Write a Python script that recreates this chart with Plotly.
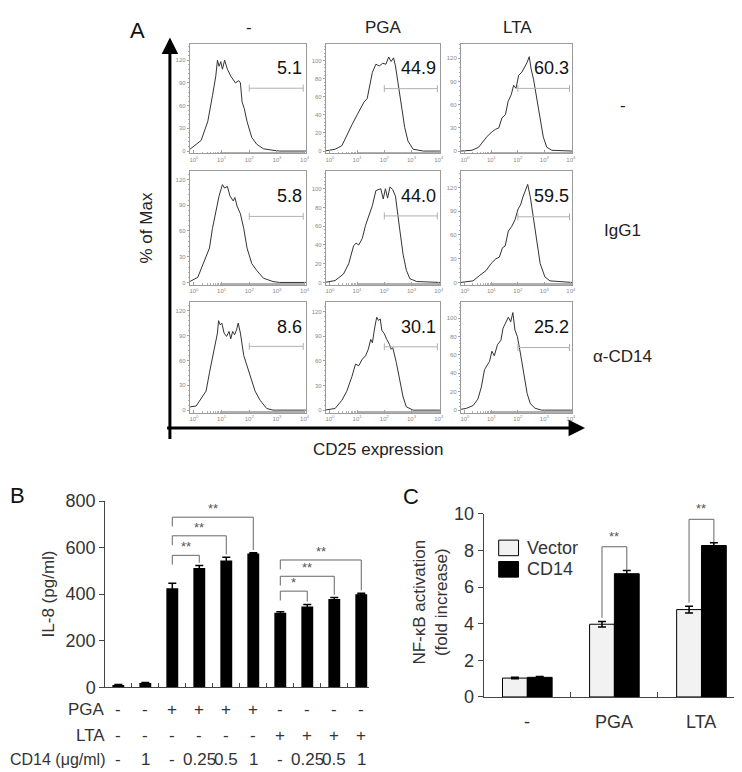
import plotly.graph_objects as go

W, H = 742, 772
FONT = "Liberation Sans, Arial, sans-serif"
TXT = "#222222"


def px(x):
    return x / W


def py(y):
    return 1 - y / H


# ---------------- Panel A data (flow cytometry histograms) ----------------
stim_labels = ["-", "PGA", "LTA"]
antibody_labels = ["-", "IgG1", "α-CD14"]
pct_labels = [["5.1", "44.9", "60.3"],
              ["5.8", "44.0", "59.5"],
              ["8.6", "30.1", "25.2"]]
decade_ticks = [1, 10, 100, 1000, 10000]
decade_text = ["10<sup>0</sup>", "10<sup>1</sup>", "10<sup>2</sup>", "10<sup>3</sup>", "10<sup>4</sup>"]

# x values are log10(CD25), y values are % of max
h11_logx = [-0.15, -0.12, 0.26, 0.5, 0.67, 0.79, 0.85, 0.91, 0.97, 1.03, 1.11, 1.21, 1.33, 1.42, 1.5,
            1.62, 1.68, 1.74, 1.82, 1.92, 2.09, 2.27, 2.51, 2.86, 3.1, 4.05]
h11_y = [3, 3, 14, 39, 73, 99, 120, 112, 118, 108, 120, 108, 99, 95, 90, 93, 90, 65, 56, 39, 18, 9, 3, 1, 0, 0]

h12_logx = [-0.2, 0.19, 0.44, 0.62, 0.81, 1.0, 1.12, 1.25, 1.37, 1.5, 1.56, 1.69, 1.81, 1.94, 2.06, 2.16,
            2.25, 2.34, 2.41, 2.5, 2.62, 2.75, 2.87, 3.06, 3.44, 4.05]
h12_y = [0, 2, 6, 18, 29, 40, 47, 54, 58, 76, 87, 96, 94, 97, 96, 104, 99, 103, 94, 76, 51, 26, 11, 2, 0, 0]

h13_logx = [-0.15, 0.27, 0.52, 0.71, 0.84, 1.03, 1.15, 1.28, 1.4, 1.53, 1.63, 1.75, 1.84, 1.93, 2.03, 2.15,
            2.25, 2.34, 2.43, 2.5, 2.59, 2.71, 2.84, 2.96, 3.09, 3.28, 4.05]
h13_y = [0, 1, 5, 13, 19, 25, 28, 30, 43, 47, 64, 73, 85, 81, 98, 102, 108, 114, 122, 106, 93, 68, 39, 18, 5, 1, 0]

h21_logx = [-0.15, -0.12, 0.14, 0.38, 0.56, 0.67, 0.79, 0.91, 1.03, 1.11, 1.21, 1.3, 1.42, 1.48, 1.56, 1.68,
            1.8, 1.92, 2.09, 2.27, 2.51, 2.86, 3.1, 4.05]
h21_y = [1.5, 1.5, 6, 25, 40, 63, 84, 101, 114, 110, 112, 101, 95, 99, 89, 80, 63, 40, 22, 14, 5, 1, 0, 0]

h22_logx = [-0.2, 0.19, 0.5, 0.69, 0.87, 0.96, 1.06, 1.19, 1.31, 1.44, 1.56, 1.69, 1.79, 1.87, 1.96, 2.04,
            2.12, 2.21, 2.31, 2.41, 2.56, 2.69, 2.81, 2.94, 3.19, 4.05]
h22_y = [0, 2, 9, 20, 39, 42, 40, 47, 61, 73, 82, 98, 99, 100, 89, 100, 90, 102, 99, 92, 58, 30, 13, 4, 1, 0]

h23_logx = [-0.15, 0.31, 0.56, 0.8, 0.99, 1.17, 1.3, 1.42, 1.52, 1.64, 1.77, 1.89, 2.01, 2.1, 2.19, 2.28,
            2.37, 2.47, 2.59, 2.72, 2.84, 3.02, 3.21, 4.05]
h23_y = [0, 2, 9, 15, 24, 30, 32, 44, 46, 65, 71, 79, 93, 98, 108, 116, 124, 108, 81, 48, 24, 7, 2, 0]

h31_logx = [-0.15, -0.12, 0.08, 0.26, 0.44, 0.56, 0.71, 0.85, 0.89, 0.95, 1.01, 1.09, 1.18, 1.27, 1.33, 1.4,
            1.47, 1.54, 1.6, 1.68, 1.8, 1.92, 2.09, 2.21, 2.39, 2.63, 2.86, 4.05]
h31_y = [4, 4, 5, 14, 23, 45, 68, 93, 108, 103, 105, 93, 89, 95, 86, 95, 91, 97, 105, 93, 66, 54, 35, 23, 12,
         2, 0, 0]

h32_logx = [-0.2, 0.19, 0.44, 0.62, 0.81, 0.94, 1.06, 1.19, 1.31, 1.41, 1.5, 1.56, 1.65, 1.72, 1.79, 1.85,
            1.91, 2.0, 2.09, 2.19, 2.25, 2.31, 2.44, 2.56, 2.69, 2.81, 3.06, 4.05]
h32_y = [0, 2, 12, 23, 41, 56, 54, 62, 66, 74, 86, 82, 101, 113, 109, 111, 97, 93, 86, 80, 74, 76, 58, 39, 16,
         4, 0, 0]

h33_logx = [-0.15, -0.12, 0.06, 0.31, 0.49, 0.62, 0.74, 0.83, 0.93, 1.02, 1.11, 1.23, 1.36, 1.44, 1.54, 1.64,
            1.73, 1.81, 1.89, 1.98, 2.1, 2.22, 2.35, 2.47, 2.65, 2.9, 4.05]
h33_y = [1, 1, 2, 5, 12, 25, 44, 48, 53, 64, 59, 71, 76, 89, 96, 101, 96, 106, 87, 80, 61, 39, 18, 7, 2, 0, 0]

gate_level = [[83, 69, 81], [77, 71, 83], [77, 77, 68]]
gate_log_start = 2.0
gate_log_end = 3.95

# ---------------- Panel B data ----------------
il8_values = [10, 18, 425, 513, 545, 575, 320, 347, 379, 400]
il8_errors = [2, 2, 22, 10, 14, 3, 4, 9, 7, 4]
pga_signs = ["-", "-", "+", "+", "+", "+", "-", "-", "-", "-"]
lta_signs = ["-", "-", "-", "-", "-", "-", "+", "+", "+", "+"]
cd14_doses = ["-", "1", "-", "0.25", "0.5", "1", "-", "0.25", "0.5", "1"]
il8_sig_pairs = [(2, 3), (2, 4), (2, 5), (6, 7), (6, 8), (6, 9)]
il8_sig_labels = ["**", "**", "**", "*", "**", "**"]
il8_sig_heights = [567, 651, 731, 413, 477, 547]

# ---------------- Panel C data ----------------
nfkb_groups = ["-", "PGA", "LTA"]
vector_values = [1.03, 3.97, 4.77]
vector_errors = [0.04, 0.15, 0.18]
cd14_values = [1.07, 6.73, 8.27]
cd14_errors = [0.05, 0.17, 0.15]
nfkb_sig_groups = [1, 2]
nfkb_sig_labels = ["**", "**"]
nfkb_sig_heights = [8.2, 9.7]

# ---------------- figure ----------------
fig = go.Figure()
layout = dict(
    width=W, height=H, margin=dict(l=0, r=0, t=0, b=0),
    paper_bgcolor="white", plot_bgcolor="white",
    font=dict(family=FONT, color=TXT),
    showlegend=False, barmode="overlay",
)
annotations = []
shapes = []


def ax_id(n):
    return ("x" if n == 1 else "x%d" % n), ("y" if n == 1 else "y%d" % n)


def ax_key(n):
    return ("xaxis" if n == 1 else "xaxis%d" % n), ("yaxis" if n == 1 else "yaxis%d" % n)


hists = [[(h11_logx, h11_y), (h12_logx, h12_y), (h13_logx, h13_y)],
         [(h21_logx, h21_y), (h22_logx, h22_y), (h23_logx, h23_y)],
         [(h31_logx, h31_y), (h32_logx, h32_y), (h33_logx, h33_y)]]
col_px = [(182, 299), (319, 434), (455, 567)]
row_px = [(27, 139), (157, 274), (292, 405)]
y_tops = [[141, 118, 138], [130, 119, 141], [130, 131, 117]]
y_dticks = [[30, 20, 30], [30, 20, 30], [30, 30, 20]]

k = 0
for r in range(3):
    for c in range(3):
        k += 1
        xs, ys = hists[r][c]
        xa, ya = ax_id(k)
        xk, yk = ax_key(k)
        fig.add_trace(go.Scatter(x=[10 ** v for v in xs], y=ys, mode="lines",
                                 line=dict(color="#333333", width=1),
                                 xaxis=xa, yaxis=ya, hoverinfo="skip"))
        g = gate_level[r][c]
        fig.add_trace(go.Scatter(x=[10 ** gate_log_start, 10 ** gate_log_end], y=[g, g],
                                 mode="lines+markers", line=dict(color="#b0b0b0", width=1),
                                 marker=dict(symbol="line-ns", size=5,
                                             line=dict(color="#b0b0b0", width=1)),
                                 xaxis=xa, yaxis=ya, hoverinfo="skip"))
        dt = y_dticks[r][c]
        top = y_tops[r][c]
        layout[xk] = dict(
            domain=[px(col_px[c][0]), px(col_px[c][1])], anchor=ya, type="log",
            range=[-0.15, 4.05], showline=True, mirror=True, linecolor="#9a9a9a", linewidth=1,
            tickmode="array", tickvals=decade_ticks, ticktext=decade_text,
            tickfont=dict(size=6, color="#8a8a8a"), ticks="inside", ticklen=3, tickcolor="#a0a0a0",
            minor=dict(ticks="inside", ticklen=1.5, tickcolor="#b0b0b0"),
            showgrid=False, zeroline=False, fixedrange=True)
        layout[yk] = dict(
            domain=[py(row_px[r][1]), py(row_px[r][0])], anchor=xa,
            range=[-top * 0.022, top], tick0=0, dtick=dt, showline=True, mirror=True,
            linecolor="#9a9a9a", linewidth=1, ticks="outside", ticklen=2, tickcolor="#a0a0a0",
            tickfont=dict(size=6, color="#8a8a8a"),
            minor=dict(ticks="outside", ticklen=1, dtick=dt / 5, tickcolor="#b0b0b0"),
            showgrid=False, zeroline=False, fixedrange=True)
        annotations.append(dict(text=pct_labels[r][c], xref=xa + " domain", yref=ya + " domain",
                                x=0.985, y=0.78, xanchor="right", yanchor="middle", showarrow=False,
                                font=dict(size=18, color="#111111")))

# column and row headers for A
for c, lab in enumerate(stim_labels):
    annotations.append(dict(text=lab, x=px((col_px[c][0] + col_px[c][1]) / 2 + 1), y=py(10),
                            xref="paper", yref="paper", showarrow=False,
                            xanchor="center", yanchor="middle", font=dict(size=17)))
row_label_y = [90, 218, 347]
for r, lab in enumerate(antibody_labels):
    annotations.append(dict(text=lab, x=px(618), y=py(row_label_y[r]), xref="paper", yref="paper",
                            showarrow=False, xanchor="center", yanchor="middle", font=dict(size=17)))
annotations.append(dict(text="A", x=px(129), y=py(13), xref="paper", yref="paper", showarrow=False,
                        xanchor="center", yanchor="middle", font=dict(size=22, color="#111")))
annotations.append(dict(text="% of Max", x=px(138), y=py(216), xref="paper", yref="paper",
                        showarrow=False, textangle=-90, xanchor="center", yanchor="middle",
                        font=dict(size=17)))
annotations.append(dict(text="CD25 expression", x=px(371), y=py(443), xref="paper", yref="paper",
                        showarrow=False, xanchor="center", yanchor="middle", font=dict(size=17)))
# big axis arrows (tail offsets in pixels)
annotations.append(dict(text="", x=px(162), y=py(20), ax=0, ay=403, xref="paper",
                        yref="paper", axref="pixel", ayref="pixel", showarrow=True, arrowhead=2,
                        arrowsize=1.1, arrowwidth=3, arrowcolor="black"))
annotations.append(dict(text="", x=px(580), y=py(421), ax=-419.5, ay=0, xref="paper",
                        yref="paper", axref="pixel", ayref="pixel", showarrow=True, arrowhead=2,
                        arrowsize=1.1, arrowwidth=3, arrowcolor="black"))

# ---------------- Panel B ----------------
fig.add_trace(go.Bar(x=list(range(len(il8_values))), y=il8_values, width=0.44,
                     marker=dict(color="black", line=dict(width=0)),
                     error_y=dict(type="data", array=il8_errors, color="black", thickness=1.5, width=4),
                     xaxis="x10", yaxis="y10", hoverinfo="skip"))
layout["xaxis10"] = dict(domain=[px(97), px(362)], anchor="y10", range=[-0.48, 9.27],
                         tickmode="array", tickvals=[i + 0.5 for i in range(9)], ticks="inside",
                         ticklen=4, tickcolor="#444", showticklabels=False, showline=True,
                         linecolor="#444", linewidth=1.2, showgrid=False, zeroline=False)
layout["yaxis10"] = dict(domain=[py(687), py(496)], anchor="x10", range=[0, 800],
                         tickmode="array", tickvals=[0, 200, 400, 600, 800], ticks="outside",
                         ticklen=5, tickcolor="#444", tickfont=dict(size=18, color="#333"),
                         showline=True, linecolor="#444", linewidth=1.2, showgrid=False,
                         zeroline=False)
annotations.append(dict(text="IL-8 (pg/ml)", x=px(40), y=py(591), xref="paper", yref="paper",
                        showarrow=False, textangle=-90, xanchor="center", yanchor="middle",
                        font=dict(size=17, color="#333")))
annotations.append(dict(text="B", x=px(9), y=py(490), xref="paper", yref="paper", showarrow=False,
                        xanchor="center", yanchor="middle", font=dict(size=22, color="#111")))
row_specs = [("PGA", pga_signs, 710, 17), ("LTA", lta_signs, 737, 17),
             ("CD14 (μg/ml)", cd14_doses, 761, 16)]
for name, vals, yy, fs in row_specs:
    annotations.append(dict(text=name, x=px(99), y=py(yy), xref="paper", yref="paper",
                            showarrow=False, xanchor="right", yanchor="middle",
                            font=dict(size=fs, color="#333")))
    for i, v in enumerate(vals):
        annotations.append(dict(text=v, x=i, y=py(yy), xref="x10", yref="paper", showarrow=False,
                                xanchor="center", yanchor="middle", font=dict(size=17, color="#333")))
for (i, j), lab, top in zip(il8_sig_pairs, il8_sig_labels, il8_sig_heights):
    left_end = top - 40
    right_end = il8_values[j] + il8_errors[j] + 12
    shapes.append(dict(type="path", xref="x10", yref="y10",
                       path="M %g,%g L %g,%g L %g,%g L %g,%g" % (i, left_end, i, top, j, top, j, right_end),
                       line=dict(color="#666", width=1)))
    annotations.append(dict(text=lab, x=(i + j) / 2, y=top, xref="x10", yref="y10", showarrow=False,
                            xanchor="center", yanchor="bottom", yshift=-1,
                            font=dict(size=13, color="#555")))

# ---------------- Panel C ----------------
bw = 0.285
fig.add_trace(go.Bar(x=list(range(3)), y=vector_values, width=bw, offset=-bw,
                     marker=dict(color="#f2f2f2", line=dict(color="black", width=1)),
                     error_y=dict(type="data", array=vector_errors, color="black", thickness=1.5, width=4),
                     xaxis="x11", yaxis="y11", hoverinfo="skip", name="Vector"))
fig.add_trace(go.Bar(x=list(range(3)), y=cd14_values, width=bw, offset=0,
                     marker=dict(color="black", line=dict(color="black", width=1)),
                     error_y=dict(type="data", array=cd14_errors, color="black", thickness=1.5, width=4),
                     xaxis="x11", yaxis="y11", hoverinfo="skip", name="CD14"))
layout["xaxis11"] = dict(domain=[px(478), px(741)], anchor="y11", range=[-0.5, 2.5],
                         tickmode="array", tickvals=[0.5, 1.5, 2.5], ticks="inside", ticklen=5,
                         tickcolor="#444", showticklabels=False, showline=True, linecolor="#444",
                         linewidth=1.2, showgrid=False, zeroline=False)
layout["yaxis11"] = dict(domain=[py(697), py(509)], anchor="x11", range=[0, 10], tick0=0, dtick=2,
                         ticks="outside", ticklen=5, tickcolor="#444",
                         tickfont=dict(size=18, color="#333"), showline=True, linecolor="#444",
                         linewidth=1.2, showgrid=False, zeroline=False)
for g, lab in enumerate(nfkb_groups):
    annotations.append(dict(text=lab, x=g, y=py(723), xref="x11", yref="paper", showarrow=False,
                            xanchor="center", yanchor="middle", font=dict(size=18, color="#333")))
annotations.append(dict(text="NF-κB activation<br>(fold increase)", x=px(424), y=py(600),
                        xref="paper", yref="paper", showarrow=False, textangle=-90,
                        xanchor="center", yanchor="middle", font=dict(size=17, color="#333")))
annotations.append(dict(text="C", x=px(405), y=py(491), xref="paper", yref="paper", showarrow=False,
                        xanchor="center", yanchor="middle", font=dict(size=22, color="#111")))
for g, lab, top in zip(nfkb_sig_groups, nfkb_sig_labels, nfkb_sig_heights):
    xl = g - bw / 2
    xr = g + bw / 2
    left_end = vector_values[g] + vector_errors[g] + 0.2
    right_end = cd14_values[g] + cd14_errors[g] + 0.02
    shapes.append(dict(type="path", xref="x11", yref="y11",
                       path="M %g,%g L %g,%g L %g,%g L %g,%g" % (xl, left_end, xl, top, xr, top, xr, right_end),
                       line=dict(color="#666", width=1)))
    annotations.append(dict(text=lab, x=g, y=top, xref="x11", yref="y11", showarrow=False,
                            xanchor="center", yanchor="bottom", yshift=1,
                            font=dict(size=13, color="#555")))
# legend for C (drawn)
legend_items = [("Vector", "#f2f2f2", 544), ("CD14", "black", 566)]
for name, col, yc in legend_items:
    shapes.append(dict(type="rect", xref="paper", yref="paper", x0=px(493), x1=px(513),
                       y0=py(yc + 8), y1=py(yc - 8), fillcolor=col, line=dict(color="black", width=1)))
    annotations.append(dict(text=name, x=px(520), y=py(yc), xref="paper", yref="paper",
                            showarrow=False, xanchor="left", yanchor="middle",
                            font=dict(size=18, color="#333")))

layout["annotations"] = annotations
layout["shapes"] = shapes
fig.update_layout(**layout)
fig.write_html("out.html")
